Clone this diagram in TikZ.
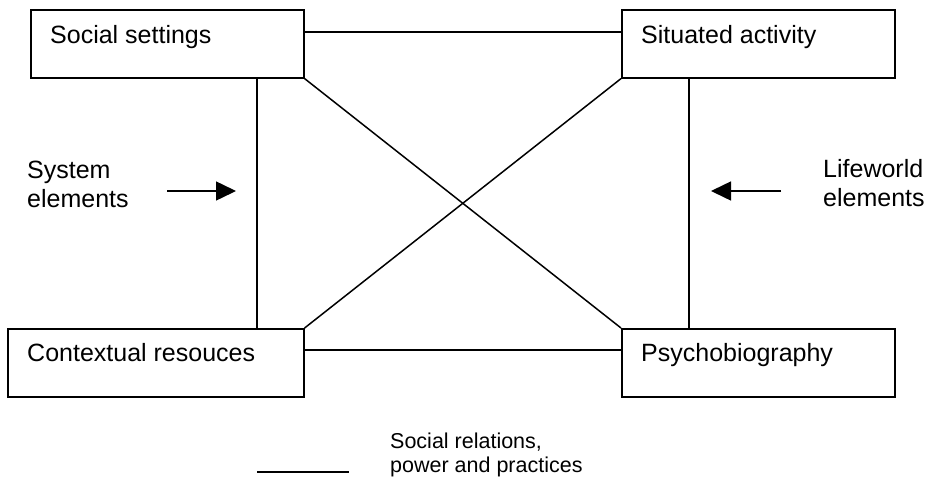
\documentclass[tikz,border=0pt]{standalone}
\usepackage{fontspec}
\setmainfont{Liberation Sans}
\usetikzlibrary{arrows.meta,calc}
\begin{document}
\begin{tikzpicture}[x=1pt,y=-1pt,
  box/.style={draw, line width=1.6pt, minimum height=68pt, anchor=north west, inner sep=0pt},
  lbl/.style={inner sep=0pt, anchor=base west, font=\fontsize{25}{29}\selectfont, align=left},
  small/.style={inner sep=0pt, anchor=base west, font=\fontsize{21.5}{24}\selectfont, align=left},
  link/.style={line width=1.5pt},
  push/.style={line width=1.5pt, -{Triangle[length=20pt,width=19pt]}}]
\useasboundingbox (0,0) rectangle (929,479);

% the four corner boxes
\node[box, minimum width=273pt] (ss) at (30,9) {};
\node[box, minimum width=273pt] (sa) at (621,9) {};
\node[box, minimum width=296pt] (cr) at (7,328) {};
\node[box, minimum width=273pt] (pb) at (621,328) {};

\node[lbl] (ssT) at (50,43) {Social settings};
\node[lbl] (saT) at (641,43) {Situated activity};
\node[lbl] (crT) at (27,361) {Contextual resouces};
\node[lbl] (pbT) at (641,361) {Psychobiography};

% relations between the boxes
\draw[link] (ss.east |- 0,32) -- (sa.west |- 0,32);
\draw[link] (cr.east |- 0,350) -- (pb.west |- 0,350);
\draw[link] (ss.south -| 257,0) -- (cr.north -| 257,0);
\draw[link] (sa.south -| 689,0) -- (pb.north -| 689,0);
\draw[link] (ss.south east) -- (pb.north west);
\draw[link] (cr.north east) -- (sa.south west);

% side labels with arrows (base anchor sits on the last line)
\node[lbl] (sys) at (27,207) {System\\elements};
\node[lbl] (life) at (823,206) {Lifeworld\\elements};
\coordinate (sysA) at (167,191);
\coordinate (sysB) at (236,191);
\coordinate (lifeA) at (781,191);
\coordinate (lifeB) at (711,191);
\draw[push] (sysA) -- (sysB);
\draw[push] (lifeA) -- (lifeB);

% legend
\coordinate (legA) at (257,472);
\coordinate (legB) at (349,472);
\draw[link] (legA) -- (legB);
\node[small] (legT) at (390,472) {Social relations,\\power and practices};
\end{tikzpicture}
\end{document}
